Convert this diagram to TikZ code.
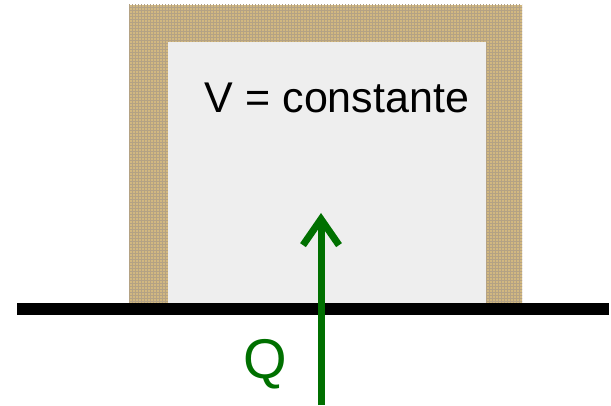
\documentclass[tikz,border=0pt]{standalone}
\usepackage{fontspec}
\setmainfont{Liberation Sans}
\usepackage{tikz}
\usetikzlibrary{arrows.meta, patterns}
\definecolor{burlap}{RGB}{210,184,128}
\definecolor{burlapdark}{RGB}{130,100,50}
\definecolor{gasgrey}{RGB}{238,238,238}
\definecolor{heatgreen}{RGB}{0,112,0}
\tikzset{
	barb/.tip={Straight Barb[length=26pt, width=36pt]},
	wall/.style={fill=burlap, draw=none},
	weave/.style={pattern=grid, pattern color=burlapdark!60},
	gas/.style={fill=gasgrey, draw=none},
	ground/.style={line width=12pt},
	heat/.style={-barb, line width=7pt, color=heatgreen}
}
\begin{document}
\begin{tikzpicture}[x=1pt, y=-1pt]
		\useasboundingbox (0,0) rectangle (611,406);
		% Container
		\fill[wall] (129,5) rectangle (522,303);
		\fill[weave] (129,5) rectangle (522,303);
		\fill[gas] (168,42) rectangle (486,303);
		\node[anchor=base, font=\fontsize{43}{48}\selectfont] (vol) at (337,113) {V = constante};
		
		% Ground
		\coordinate (gl) at (17,309);
		\coordinate (gr) at (609,309);
		\draw[ground] (gl) -- (gr);
		
		% Heat
		\coordinate (qfrom) at (321,405);
		\coordinate (qto) at (321,213);
		\draw[heat] (qfrom) -- (qto);
		\node[anchor=base, text=heatgreen, font=\fontsize{56}{60}\selectfont] (q) at (265,378) {Q};
	\end{tikzpicture}
\end{document}
